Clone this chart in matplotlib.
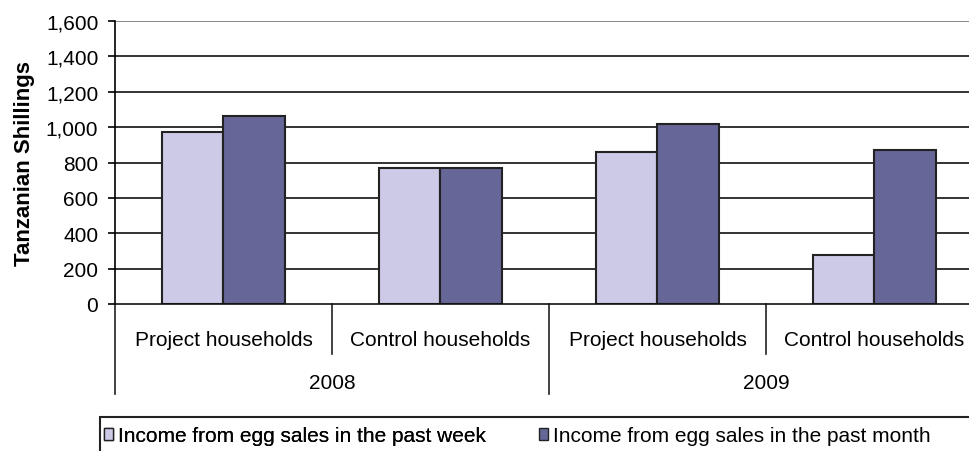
import numpy as np
import matplotlib
matplotlib.use("Agg")
import matplotlib.pyplot as plt
from matplotlib.patches import Rectangle
from matplotlib.ticker import FuncFormatter

# data
groups = ["Project households", "Control households", "Project households", "Control households"]
years = ["2008", "2009"]
week = [973, 770, 862, 275]
month = [1063, 770, 1015, 870]
yticks = [0, 200, 400, 600, 800, 1000, 1200, 1400, 1600]

light = "#CCCAE6"
dark = "#666699"
plt.rcParams["font.family"] = ["Liberation Sans", "DejaVu Sans"]

fig = plt.figure(figsize=(9.7, 4.52), dpi=100)
# axes runs a bit past the right edge, like the original
ax = fig.add_axes([115/970, 147/452, 868/970, 283/452])

x = np.arange(len(groups)) + 0.5
w = 0.285
ax.bar(x - w/2, week, w, color=light, edgecolor="#222222", linewidth=1.5, zorder=3)
ax.bar(x + w/2, month, w, color=dark, edgecolor="#222222", linewidth=1.5, zorder=3)

ax.set_xlim(0, 4)
ax.set_ylim(0, 1600)
ax.set_yticks(yticks)
ax.yaxis.set_major_formatter(FuncFormatter(lambda v, p: f"{int(v):,}"))
for v in yticks[1:]:
    ax.axhline(v, color="#111111" if v < 1600 else "#777777", lw=1.2, zorder=1)

for s in ["top", "right", "bottom"]:
    ax.spines[s].set_visible(False)
ax.spines["left"].set_linewidth(1.2)
ax.spines["left"].set_bounds(0, 1600)
ax.tick_params(axis="y", direction="out", length=5, width=1.2, pad=7, labelsize=15)
ax.tick_params(axis="x", bottom=False, labelbottom=False)
ax.set_ylabel("Tanzanian Shillings", fontsize=16, fontweight="bold", labelpad=8)

# x axis line and category separators below
tr = ax.get_xaxis_transform()
ax.plot([0, 4], [0, 0], color="#111111", lw=1.2, transform=tr, clip_on=False, zorder=4)
for xv, yb in [(0, -0.318), (1, -0.177), (2, -0.318), (3, -0.177), (4, -0.318)]:
    ax.plot([xv, xv], [0, yb], color="#222222", lw=1.2, transform=tr, clip_on=False)
for xi, g in zip(x, groups):
    ax.text(xi, -0.124, g, transform=tr, ha="center", va="center", fontsize=15)
for i, yr in enumerate(years):
    ax.text(1 + 2*i, -0.276, yr, transform=tr, ha="center", va="center", fontsize=15)

# legend box (cut off at the bottom, like the original)
fig.add_artist(Rectangle((100/970, -0.1), 1.0, 0.1 + 34/452, transform=fig.transFigure,
                         fill=False, edgecolor="#222222", lw=1.5))
h1 = Rectangle((0, 0), 1, 1, facecolor=light, edgecolor="#222222", lw=1)
h2 = Rectangle((0, 0), 1, 1, facecolor=dark, edgecolor="#222222", lw=1)
lkw = dict(loc="center left", frameon=False, fontsize=15, handlelength=0.45,
           handleheight=0.45, handletextpad=0.2, borderaxespad=0, borderpad=0)
leg1 = fig.legend([h1], ["Income from egg sales in the past week"],
                  bbox_to_anchor=(104/970, 1 - 437/452), **lkw)
fig.add_artist(leg1)
fig.legend([h2], ["Income from egg sales in the past month"],
           bbox_to_anchor=(539/970, 1 - 437/452), **lkw)

fig.savefig("out.png", dpi=100)
